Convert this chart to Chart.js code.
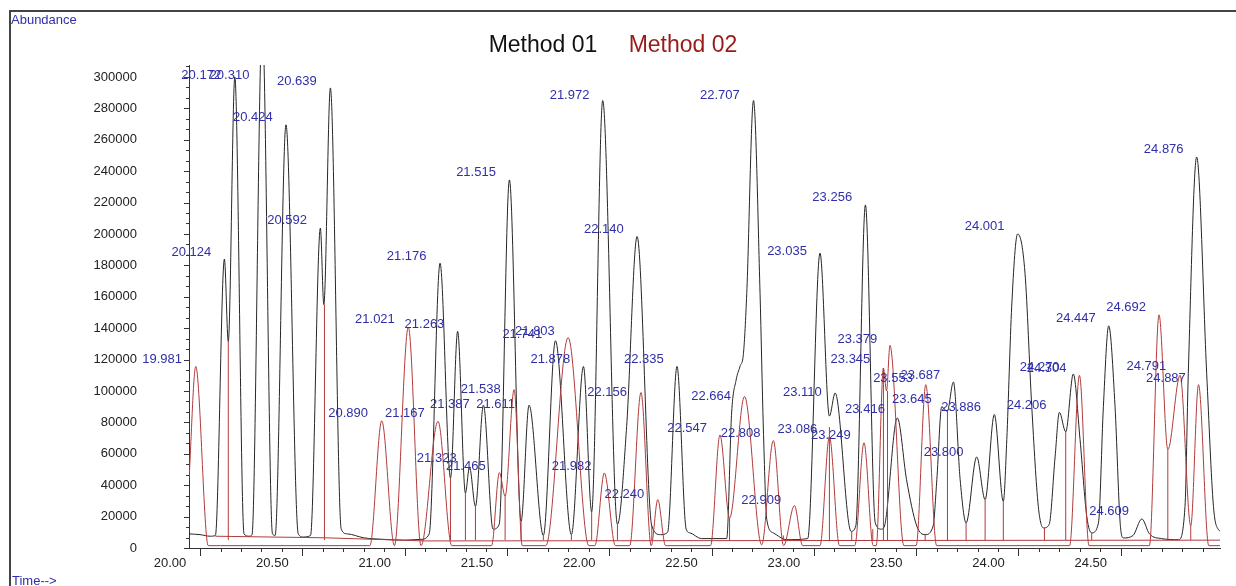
<!DOCTYPE html>
<html>
<head>
<meta charset="utf-8">
<script src="https://cdn.jsdelivr.net/npm/chart.js@4.4.0/dist/chart.umd.min.js"></script>
<style>
  html, body { margin: 0; padding: 0; background: #fff; }
  #wrap { width: 1236px; height: 586px; position: relative; }
</style>
</head>
<body>
<div id="wrap"><canvas id="chromChart"></canvas></div>
<script>
// series names (legend)
const seriesNames = ['Method 01', 'Method 02'];

// Method 01 trace (black), retention time in min / abundance
const m1Times = [19.946, 20.000, 20.050, 20.075, 20.119, 20.138, 20.170, 20.215, 20.240, 20.254, 20.304, 20.354, 20.367,
  20.420, 20.480, 20.505, 20.540, 20.588, 20.605, 20.637, 20.690, 20.720, 20.800, 20.900, 21.000, 21.080, 21.120,
  21.173, 21.224, 21.259, 21.297, 21.317, 21.346, 21.385, 21.432, 21.462, 21.512, 21.569, 21.608, 21.678, 21.737,
  21.815, 21.874, 21.914, 21.968, 22.040, 22.085, 22.136, 22.208, 22.250, 22.285, 22.331, 22.376, 22.395, 22.450,
  22.574, 22.598, 22.620, 22.639, 22.656, 22.672, 22.705, 22.737, 22.753, 22.770, 22.802, 22.867, 22.970, 23.030,
  23.076, 23.104, 23.182, 23.205, 23.252, 23.300, 23.330, 23.345, 23.408, 23.453, 23.503, 23.544, 23.583, 23.601,
  23.625, 23.652, 23.682, 23.715, 23.744, 23.796, 23.837, 23.882, 23.926, 23.943, 23.967, 23.996, 24.032, 24.065,
  24.097, 24.122, 24.150, 24.179, 24.200, 24.231, 24.268, 24.301, 24.334, 24.358, 24.391, 24.415, 24.441, 24.472,
  24.497, 24.513, 24.560, 24.603, 24.640, 24.700, 24.782, 24.814, 24.830, 24.871, 24.920, 24.953, 24.977, 24.985];
const m1Abund = [9000, 8500, 7500, 8000, 184000, 131500, 300000, 9000, 7500, 8500, 335000, 9000, 8000,
  269500, 9000, 7000, 8000, 203700, 155000, 293000, 12000, 9000, 6500, 5500, 5000, 5500, 9000,
  181400, 44600, 138000, 35000, 51600, 26500, 91000, 12000, 15000, 234400, 17000, 91000, 8000, 132000,
  8500, 115600, 23000, 285000, 15000, 77500, 198400, 14000, 8500, 10000, 115600, 12000, 9600, 6000,
  6000, 86000, 107000, 115600, 124000, 162000, 285000, 162000, 77000, 18000, 9600, 5300, 6000, 187800,
  84000, 98700, 10600, 14000, 218500, 16000, 12000, 14000, 82800, 43500, 14000, 8500, 14000, 43500,
  90000, 87000, 105700, 43500, 16000, 58000, 30800, 85000, 29700, 69000, 154000, 200000, 175000, 90000,
  26500, 12800, 15000, 58000, 86400, 74000, 110800, 69000, 20000, 9600, 16000, 90000, 141500, 90000,
  16000, 6400, 8000, 18500, 9000, 6000, 5300, 26500, 111000, 249000, 111000, 26500, 11700, 11000];

// Method 02 trace (red)
const m2Times = [19.946, 19.979, 20.040, 20.100, 20.830, 20.888, 20.950, 21.018, 21.080, 21.163, 21.230, 21.425,
  21.463, 21.491, 21.535, 21.575, 21.690, 21.799, 21.900, 21.930, 21.976, 22.030, 22.100, 22.155, 22.205, 22.237,
  22.275, 22.495, 22.541, 22.588, 22.661, 22.745, 22.802, 22.852, 22.905, 22.945, 23.030, 23.076, 23.125, 23.200,
  23.245, 23.290, 23.305, 23.340, 23.355, 23.372, 23.440, 23.500, 23.547, 23.600, 24.250, 24.298, 24.345, 24.640,
  24.687, 24.730, 24.790, 24.842, 24.880, 24.930, 24.985];
const m2Abund = [43500, 115600, 1500, 1500, 1500, 81000, 1500, 140700, 1500, 80700, 1500, 1500,
  48000, 33000, 100800, 1500, 1500, 134000, 1500, 1500, 47800, 1500, 1500, 99000, 1500, 30800,
  1500, 1500, 72000, 19000, 96500, 2000, 68500, 1500, 27000, 1500, 1500, 71000, 1500, 1500,
  67000, 1500, 1500, 114600, 100000, 129000, 1500, 1500, 104000, 1500, 1500, 110000, 1500, 1500,
  148500, 62600, 110000, 14000, 104000, 1500, 1500];

// integration baseline and drop lines (red)
const baseTimes = [20.075, 20.610, 21.100, 24.985];
const baseAbund = [7500, 6500, 4500, 5000];
const dropTimes = [20.138, 20.608, 21.224, 21.297, 21.346, 21.491, 21.569, 21.678, 21.815, 21.914, 22.040, 22.208,
  22.588, 22.851, 23.076, 23.185, 23.288, 23.340, 23.360, 23.544, 23.653, 23.744, 23.837, 23.926, 24.127, 24.231,
  24.358, 24.730, 24.842];
const dropTops = [131500, 155000, 44600, 35000, 26500, 33000, 17000, 8000, 8500, 23000, 15000, 14000,
  19000, 8000, 77000, 10600, 12000, 114600, 100000, 8500, 88000, 16000, 30800, 29700, 12800, 74000,
  9600, 62600, 14000];

// peak annotations
const peakLabels = ['19.981', '20.124', '20.172', '20.310', '20.424', '20.592', '20.639', '20.890', '21.021', '21.167',
  '21.176', '21.263', '21.323', '21.387', '21.465', '21.515', '21.538', '21.611', '21.741', '21.803', '21.878',
  '21.972', '21.982', '22.140', '22.156', '22.240', '22.335', '22.547', '22.664', '22.707', '22.808', '22.909',
  '23.035', '23.086', '23.110', '23.249', '23.256', '23.345', '23.379', '23.416', '23.553', '23.645', '23.687',
  '23.800', '23.886', '24.001', '24.206', '24.270', '24.304', '24.447', '24.609', '24.692', '24.791', '24.887', '24.876'];
const peakLabelY = [119900, 188000, 301200, 301200, 273900, 208400, 297100, 85500, 145400, 85500,
  185500, 142200, 56900, 91300, 51800, 238900, 100800, 91300, 136200, 138100, 119900,
  288500, 51800, 202600, 98800, 34000, 119900, 76300, 96800, 288500, 73100, 30100,
  188800, 75600, 98800, 71800, 223000, 119900, 133000, 88100, 108000, 94600, 109900,
  60700, 89400, 204500, 90700, 115100, 114500, 145900, 23200, 152900, 115700, 108000, 253600];

// axis tick labels
const xTickLabels = [20.0, 20.5, 21.0, 21.5, 22.0, 22.5, 23.0, 23.5, 24.0, 24.5];
const yTickLabels = [0, 20000, 40000, 60000, 80000, 100000, 120000, 140000, 160000, 180000, 200000,
  220000, 240000, 260000, 280000, 300000];

const toPts = (xs, ys) => xs.map((t, i) => ({ x: t, y: ys[i] }));

const dropPts = [];
dropTimes.forEach((t, i) => {
  dropPts.push({ x: t, y: 5000 }, { x: t, y: dropTops[i] }, { x: t, y: null });
});

const FONT = '"Liberation Sans", Arial, sans-serif';
const BLUE = '#2f2fa8';
const RED = '#b23a3a';

// frame, titles, minor ticks and peak labels
const decorPlugin = {
  id: 'decor',
  afterDraw(chart) {
    const ctx = chart.ctx;
    const xs = chart.scales.x, ys = chart.scales.y;
    const area = chart.chartArea;
    ctx.save();

    // outer frame
    ctx.strokeStyle = '#444';
    ctx.lineWidth = 2;
    ctx.beginPath();
    ctx.moveTo(10, 586);
    ctx.lineTo(10, 11);
    ctx.lineTo(1236, 11);
    ctx.stroke();

    // tick marks
    ctx.strokeStyle = '#333';
    ctx.lineWidth = 1;
    ctx.beginPath();
    for (let i = 0; i <= 49; i++) {
      const v = 20 + i * 0.1;
      const px = Math.round(xs.getPixelForValue(v)) + 0.5;
      const len = i % 5 === 0 ? 8 : 4;
      ctx.moveTo(px, area.bottom);
      ctx.lineTo(px, area.bottom + len);
    }
    for (let i = 0; i <= 46; i++) {
      const v = i * 20000 / 3;
      const py = Math.round(ys.getPixelForValue(v)) + 0.5;
      const len = i % 3 === 0 ? 5 : 3;
      ctx.moveTo(area.left - len, py);
      ctx.lineTo(area.left, py);
    }
    ctx.stroke();

    // corner captions
    ctx.fillStyle = BLUE;
    ctx.font = '13px ' + FONT;
    ctx.textAlign = 'left';
    ctx.textBaseline = 'middle';
    ctx.fillText('Abundance', 11, 20);
    ctx.fillText('Time-->', 12, 581);

    // legend text
    ctx.font = '23px ' + FONT;
    ctx.textAlign = 'center';
    ctx.fillStyle = '#111';
    ctx.fillText(seriesNames[0], 543, 46);
    ctx.fillStyle = '#9a1a1a';
    ctx.fillText(seriesNames[1], 683, 46);

    // peak labels
    ctx.font = '13px ' + FONT;
    ctx.fillStyle = BLUE;
    peakLabels.forEach((txt, i) => {
      const px = xs.getPixelForValue(parseFloat(txt)) - 34;
      const py = ys.getPixelForValue(peakLabelY[i]);
      ctx.fillText(txt, px, py);
    });
    ctx.restore();
  }
};

new Chart(document.getElementById('chromChart'), {
  type: 'line',
  data: {
    datasets: [
      {
        label: seriesNames[0],
        data: toPts(m1Times, m1Abund),
        borderColor: '#262626',
        borderWidth: 1,
        pointRadius: 0,
        cubicInterpolationMode: 'monotone',
        order: 4
      },
      {
        label: seriesNames[1],
        data: toPts(m2Times, m2Abund),
        borderColor: RED,
        borderWidth: 1,
        pointRadius: 0,
        cubicInterpolationMode: 'monotone',
        order: 3
      },
      {
        label: 'baseline',
        data: toPts(baseTimes, baseAbund),
        borderColor: RED,
        borderWidth: 1,
        pointRadius: 0,
        tension: 0,
        order: 2
      },
      {
        label: 'drops',
        data: dropPts,
        borderColor: RED,
        borderWidth: 1,
        pointRadius: 0,
        tension: 0,
        spanGaps: false,
        order: 1
      }
    ]
  },
  options: {
    responsive: true,
    maintainAspectRatio: false,
    animation: false,
    layout: { padding: { left: 10, top: 65, right: 16, bottom: 10 } },
    plugins: {
      legend: { display: false },
      tooltip: { enabled: false }
    },
    scales: {
      x: {
        type: 'linear',
        min: 19.946,
        max: 24.985,
        afterBuildTicks: s => { s.ticks = xTickLabels.map(v => ({ value: v })); },
        // fixed size, no extra label padding pushed into the layout
        afterFit: s => { s.height = 28; s.paddingLeft = 0; s.paddingRight = 0; },
        grid: { display: false, drawTicks: false },
        border: { display: true, color: '#333', width: 1 },
        ticks: {
          padding: 8,
          labelOffset: -30,
          autoSkip: false,
          maxRotation: 0,
          color: '#222',
          font: { family: FONT, size: 13 },
          callback: v => Number(v).toFixed(2)
        }
      },
      y: {
        min: 0,
        max: 307600,
        afterBuildTicks: s => { s.ticks = yTickLabels.map(v => ({ value: v })); },
        afterFit: s => { s.width = 179; s.paddingTop = 0; s.paddingBottom = 0; },
        grid: { display: false, drawTicks: false },
        border: { display: true, color: '#333', width: 1 },
        ticks: {
          padding: 52,
          color: '#222',
          font: { family: FONT, size: 13 },
          callback: v => String(v)
        }
      }
    }
  },
  plugins: [decorPlugin]
});
</script>
</body>
</html>
